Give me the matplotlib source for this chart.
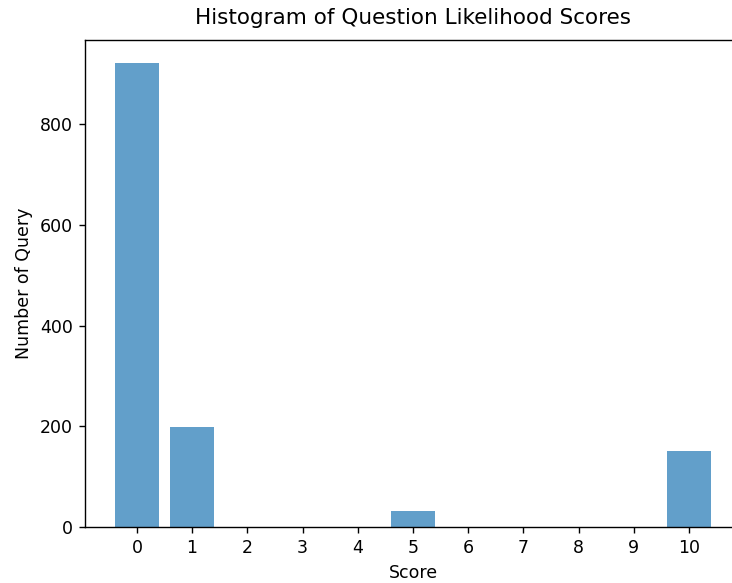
import matplotlib
matplotlib.use('Agg')
import matplotlib.pyplot as plt

# scores and how many queries got each one
scores = [0, 1, 2, 3, 4, 5, 6, 7, 8, 9, 10]
counts = [921, 198, 0, 0, 0, 32, 0, 0, 0, 0, 151]

W, H = 732, 583
DPI = 125
fig = plt.figure(figsize=(W / DPI, H / DPI), dpi=DPI)
# axes run a bit past the right edge, like the cropped original
ax = fig.add_axes([85 / W, 56 / H, 656 / W, 487 / H])

ax.bar(scores, counts, width=0.8, alpha=0.7)
ax.set_xticks(scores)

ax.set_title('Histogram of Question Likelihood Scores', fontsize=12.4, pad=9)
ax.set_xlabel('Score')
ax.set_ylabel('Number of Query')

fig.savefig('out.png', dpi=DPI)
